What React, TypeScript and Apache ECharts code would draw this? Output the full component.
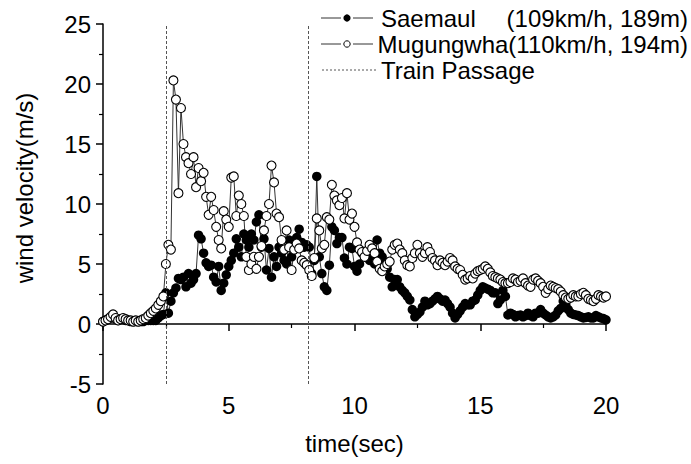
import React, { useEffect, useRef } from "react";
import * as echarts from "echarts";

const sampleStep = 0.1; // seconds between samples
const saemaul = [
  0.2, 0.3, 0.4, 0.5, 0.6, 0.4, 0.3, 0.4, 0.4, 0.3,
  0.3, 0.2, 0.2, 0.2, 0.2, 0.2, 0.2, 0.3, 0.3, 0.3,
  0.3, 0.3, 0.5, 0.7, 0.8, 2.6, 0.9, 1.9, 2.6, 3.0,
  3.8, 3.7, 3.9, 3.1, 4.2, 3.4, 3.7, 4.2, 7.4, 7.1,
  5.9, 5.1, 4.8, 4.9, 3.9, 3.5, 4.8, 2.8, 3.4, 4.1,
  4.8, 5.3, 5.9, 7.1, 6.4, 5.6, 7.5, 7.0, 6.4, 7.5,
  7.0, 8.5, 9.1, 6.4, 7.1, 4.5, 6.3, 3.9, 5.6, 4.8,
  6.4, 5.9, 5.3, 5.0, 7.0, 5.6, 6.4, 7.2, 7.9, 6.8,
  6.4, 6.6, 6.4, 4.2, 5.3, 12.3, 5.6, 4.2, 3.1, 2.8,
  4.9, 8.1, 7.8, 6.7, 7.2, 7.2, 5.5, 5.0, 6.4, 6.3,
  4.8, 4.4, 5.0, 5.9, 6.0, 5.9, 5.3, 5.3, 5.0, 7.0,
  5.9, 5.6, 5.0, 4.6, 3.9, 3.1, 3.7, 3.7, 3.1, 2.8,
  2.6, 2.3, 2.0, 1.2, 0.6, 0.8, 1.0, 1.4, 1.9, 1.6,
  1.7, 1.9, 2.1, 2.3, 2.1, 1.9, 2.0, 1.7, 1.4, 0.9,
  0.5, 0.8, 1.1, 1.4, 1.7, 1.6, 1.6, 1.9, 2.0, 2.4,
  2.8, 3.1, 3.0, 2.9, 2.8, 2.6, 2.6, 1.7, 2.0, 2.8,
  2.3, 0.75, 0.9, 0.8, 0.6, 0.7, 0.75, 0.6, 0.7, 0.9,
  0.7, 0.6, 0.9, 0.9, 1.2, 0.9, 0.75, 0.6, 0.5, 0.6,
  0.75, 1.1, 1.3, 1.9, 1.6, 1.2, 0.9, 0.8, 0.75, 0.7,
  0.6, 0.5, 0.55, 0.6, 0.5, 0.5, 0.7, 0.6, 0.5, 0.45,
  0.35,
];
const mugungwha = [
  0.2, 0.3, 0.4, 0.6, 0.8, 0.5, 0.3, 0.4, 0.5, 0.4,
  0.3, 0.3, 0.2, 0.3, 0.2, 0.3, 0.4, 0.5, 0.7, 0.9,
  1.1, 1.3, 1.6, 1.9, 2.3, 5.0, 6.6, 6.2, 20.3, 18.7,
  10.9, 18.0, 15.0, 13.9, 13.4, 12.5, 13.9, 11.4, 13.0, 11.9,
  12.6, 10.6, 9.1, 10.6, 9.5, 8.1, 7.0, 6.3, 9.4, 8.7,
  8.1, 12.2, 12.3, 9.0, 10.7, 10.0, 9.0, 5.6, 4.5, 5.0,
  5.6, 4.6, 5.6, 6.5, 7.8, 9.0, 10.0, 13.2, 11.8, 9.2,
  8.9, 7.0, 6.2, 7.8, 6.4, 4.5, 6.2, 6.7, 6.3, 5.3,
  5.1, 4.9, 4.5, 4.0, 5.5, 8.8, 7.8, 6.3, 6.6, 8.9,
  8.7, 11.6, 10.7, 10.3, 9.9, 10.5, 8.8, 10.9, 8.7, 9.2,
  8.1, 6.8, 6.2, 6.0, 5.6, 6.1, 6.6, 6.3, 5.9, 5.2,
  4.6, 4.4, 4.8, 5.0, 5.2, 6.2, 6.6, 6.7, 6.2, 5.9,
  5.3, 4.9, 4.8, 5.5, 5.9, 6.6, 5.9, 5.6, 5.9, 6.4,
  6.0, 5.5, 5.3, 4.9, 5.3, 5.1, 4.9, 5.2, 5.5, 5.3,
  4.8, 4.6, 4.5, 4.1, 3.7, 3.8, 4.0, 3.8, 4.2, 4.4,
  4.5, 4.6, 4.8, 4.6, 4.3, 4.0, 3.9, 3.8, 3.7, 3.5,
  3.4, 3.4, 3.5, 3.8, 3.7, 3.5, 3.6, 3.8, 3.4, 3.2,
  3.1, 3.7, 3.8, 3.6, 3.4, 3.1, 2.6, 2.9, 3.2, 3.1,
  3.0, 2.9, 2.7, 2.4, 2.2, 2.1, 2.2, 2.4, 2.3, 2.3,
  2.5, 2.6, 2.4, 2.1, 2.0, 1.9, 2.1, 2.4, 2.3, 2.2,
  2.3,
];
const passageTimes = [2.52, 8.18];
const legendNames = ["Saemaul", "(109km/h, 189m)", "Mugungwha(110km/h, 194m)", "Train Passage"];
const xAxisTitle = "time(sec)";
const yAxisTitle = "wind velocity(m/s)";

const FONT = '"Liberation Sans", Arial, sans-serif';

export default function App() {
  const ref = useRef<HTMLDivElement>(null);
  useEffect(() => {
    if (!ref.current) return;
    const chart = echarts.init(ref.current, null, { renderer: "svg" });
    const toPairs = (arr: number[]) => arr.map((v, i) => [+(i * sampleStep).toFixed(2), v]);
    const font = `24px ${FONT}`;
    const axisCommon = {
      axisLine: { show: true, lineStyle: { color: "#000", width: 1.5 } },
      axisTick: { show: true, inside: false, length: 7, lineStyle: { color: "#000", width: 1.5 } },
      minorTick: { show: true, splitNumber: 2, length: 4, lineStyle: { color: "#000", width: 1.2 } },
      splitLine: { show: false },
      axisLabel: { color: "#000", fontSize: 24, fontFamily: FONT },
      nameTextStyle: { color: "#000", fontSize: 24, fontFamily: FONT },
    };
    chart.setOption({
      animation: false,
      backgroundColor: "#fff",
      grid: { left: 103, top: 24, width: 503, height: 360, containLabel: false },
      xAxis: {
        type: "value",
        min: 0,
        max: 20,
        interval: 5,
        name: xAxisTitle,
        nameLocation: "middle",
        nameGap: 47,
        ...axisCommon,
        axisLabel: { ...axisCommon.axisLabel, margin: 9 },
      },
      yAxis: {
        type: "value",
        min: -5,
        max: 25,
        interval: 5,
        ...axisCommon,
        axisLabel: { ...axisCommon.axisLabel, margin: 12 },
      },
      series: [
        {
          name: "Saemaul",
          type: "line",
          data: toPairs(saemaul),
          symbol: "circle",
          symbolSize: 9.5,
          showAllSymbol: true,
          itemStyle: { color: "#000", borderColor: "#000", borderWidth: 0 },
          lineStyle: { color: "#333", width: 1 },
          markLine: {
            silent: true,
            symbol: "none",
            label: { show: false },
            lineStyle: { color: "#555", width: 1, type: [3, 2] },
            data: passageTimes.map((t) => ({ xAxis: t })),
          },
        },
        {
          name: "Mugungwha",
          type: "line",
          data: toPairs(mugungwha),
          symbol: "circle",
          symbolSize: 9,
          showAllSymbol: true,
          itemStyle: { color: "#fff", borderColor: "#000", borderWidth: 1.1 },
          lineStyle: { color: "#333", width: 1 },
        },
      ],
      graphic: [
        { type: "text", x: 24, y: 188, rotation: Math.PI / 2, style: { text: yAxisTitle, font, fill: "#000", align: "center", verticalAlign: "middle", textAlign: "center", textVerticalAlign: "middle" } },
        { type: "line", shape: { x1: 321, y1: 18, x2: 341, y2: 18 }, style: { stroke: "#333", lineWidth: 1 } },
        { type: "circle", shape: { cx: 347, cy: 18, r: 3.6 }, style: { fill: "#000" } },
        { type: "line", shape: { x1: 353, y1: 18, x2: 373, y2: 18 }, style: { stroke: "#333", lineWidth: 1 } },
        { type: "text", x: 381, y: 18, style: { text: legendNames[0], font, fill: "#000", align: "left", verticalAlign: "middle", textAlign: "left", textVerticalAlign: "middle" } },
        { type: "text", x: 688, y: 18, style: { text: legendNames[1], font, fill: "#000", align: "right", verticalAlign: "middle", textAlign: "right", textVerticalAlign: "middle" } },
        { type: "line", shape: { x1: 321, y1: 44, x2: 341, y2: 44 }, style: { stroke: "#333", lineWidth: 1 } },
        { type: "circle", shape: { cx: 347, cy: 44, r: 3.2 }, style: { fill: "#fff", stroke: "#000", lineWidth: 1 } },
        { type: "line", shape: { x1: 353, y1: 44, x2: 373, y2: 44 }, style: { stroke: "#333", lineWidth: 1 } },
        { type: "text", x: 688, y: 44, style: { text: legendNames[2], font, fill: "#000", align: "right", verticalAlign: "middle", textAlign: "right", textVerticalAlign: "middle" } },
        { type: "line", shape: { x1: 322, y1: 70, x2: 376, y2: 70 }, style: { stroke: "#555", lineWidth: 1, lineDash: [2, 2] } },
        { type: "text", x: 381, y: 70, style: { text: legendNames[3], font, fill: "#000", align: "left", verticalAlign: "middle", textAlign: "left", textVerticalAlign: "middle" } },
      ],
    });
    return () => chart.dispose();
  }, []);
  return <div ref={ref} style={{ position: "fixed", left: 0, top: 0, width: 691, height: 464 }} />;
}
